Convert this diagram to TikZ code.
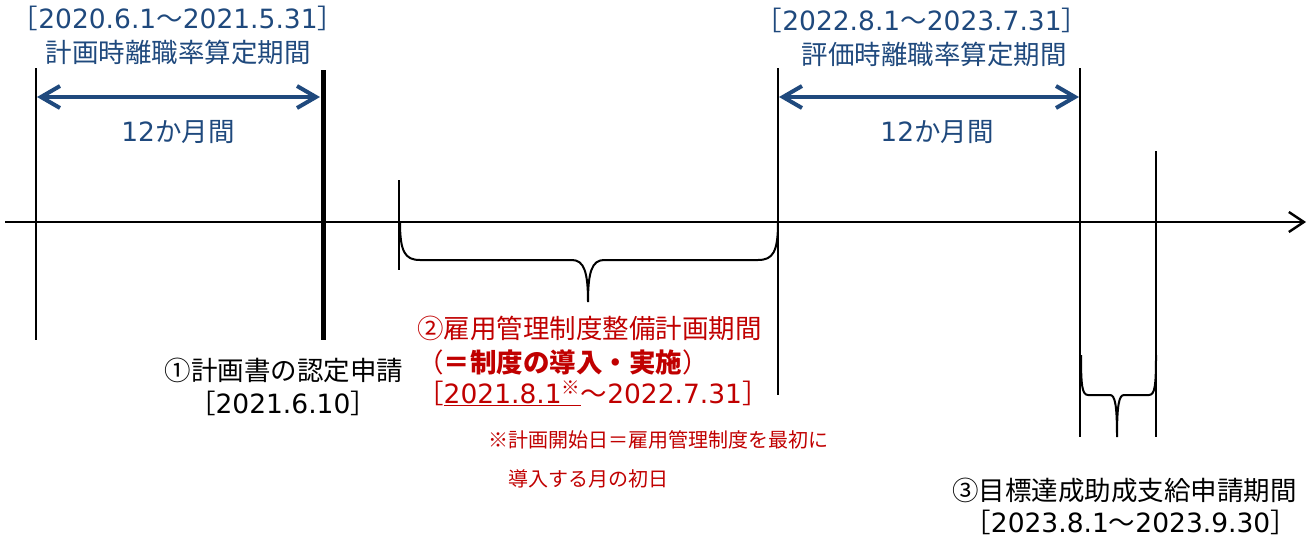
\documentclass[tikz,border=0pt]{standalone}
\usepackage{fontspec}
\setmainfont{Noto Sans CJK JP}
\newfontfamily\latinwide{DejaVu Sans}
\newcommand\lw[1]{{\latinwide #1}}
\usetikzlibrary{arrows.meta}
\definecolor{navy}{RGB}{31,73,125}
\definecolor{darkred}{RGB}{192,0,0}
\tikzset{
  thinline/.style={line width=1.4pt, black},
  thickline/.style={line width=5pt, black},
  axisline/.style={line width=2.4pt, black, -{Straight Barb[length=15pt,width=20pt]}},
  spanarrow/.style={navy, line width=4pt, {Straight Barb[length=19pt,width=22pt]}-{Straight Barb[length=19pt,width=22pt]}},
  bracepath/.style={line width=2pt, black},
  basetxt/.style={inner sep=0pt, font=\fontsize{26.5}{30}\selectfont},
  bluetxt/.style={basetxt, text=navy},
  blktxt/.style={basetxt, text=black},
  redtxt/.style={basetxt, text=darkred},
  smalltxt/.style={inner sep=0pt, text=darkred, font=\fontsize{20}{24}\selectfont},
}
\begin{document}
\begin{tikzpicture}[x=1pt,y=-1pt]
\useasboundingbox (0,0) rectangle (1314,536);
% coordinates
\coordinate (a1) at (36,68);   \coordinate (a2) at (36,340);
\coordinate (b1) at (323,70);  \coordinate (b2) at (323,340);
\coordinate (c1) at (399,180); \coordinate (c2) at (399,270);
\coordinate (d1) at (778,68);  \coordinate (d2) at (778,395);
\coordinate (e1) at (1080,68); \coordinate (e2) at (1080,437);
\coordinate (f1) at (1156,151);\coordinate (f2) at (1156,437);
\coordinate (ax0) at (5,222);  \coordinate (ax1) at (1306,222);
\coordinate (s1a) at (37,97);  \coordinate (s1b) at (320,97);
\coordinate (s2a) at (779,97); \coordinate (s2b) at (1079,97);
% vertical lines
\draw[thinline] (a1) -- (a2);
\draw[thickline] (b1) -- (b2);
\draw[thinline] (c1) -- (c2);
\draw[thinline] (d1) -- (d2);
\draw[thinline] (e1) -- (e2);
\draw[thinline] (f1) -- (f2);
% axis
\draw[axisline] (ax0) -- (ax1);
% spans
\draw[spanarrow] (s1a) -- (s1b);
\draw[spanarrow] (s2a) -- (s2b);
% braces
\draw[bracepath] (400,222) .. controls (400,252) and (405,260) .. (420,260)
  -- (572,260) .. controls (584,260) and (588,272) .. (588,302)
  .. controls (588,272) and (592,260) .. (604,260)
  -- (758,260) .. controls (773,260) and (778,252) .. (778,222);
\draw[bracepath] (1081,355) .. controls (1081,385) and (1082,395) .. (1088,395)
  -- (1110,395) .. controls (1115,395) and (1117,405) .. (1117,437)
  .. controls (1117,405) and (1119,395) .. (1124,395)
  -- (1149,395) .. controls (1155,395) and (1156,385) .. (1156,355);
% texts
\node[bluetxt] (t1) at (178,18) {［\lw{2020.6.1}～\lw{2021.5.31}］};
\node[bluetxt] (t2) at (178,52) {計画時離職率算定期間};
\node[bluetxt] (t3) at (178,132) {\lw{12}か月間};
\node[bluetxt] (t4) at (922,20) {［\lw{2022.8.1}～\lw{2023.7.31}］};
\node[bluetxt] (t5) at (934,54) {評価時離職率算定期間};
\node[bluetxt] (t6) at (937,132) {\lw{12}か月間};
\node[blktxt] (t7) at (284,370) {①計画書の認定申請};
\node[blktxt] (t8) at (283,403) {［\lw{2021.6.10}］};
\node[redtxt, anchor=west] (r1) at (417,328) {②雇用管理制度整備計画期間};
\node[redtxt, anchor=west] (r2) at (417,362) {（\textbf{＝制度の導入・実施}）};
\node[redtxt, anchor=west] (r3) at (417,393) {［\underline{\lw{2021.8.1}\textsuperscript{※}}～\lw{2022.7.31}］};
\node[smalltxt, anchor=west] (r4) at (488,440) {※計画開始日＝雇用管理制度を最初に};
\node[smalltxt, anchor=west] (r5) at (508,479) {導入する月の初日};
\node[blktxt, anchor=east] (t9) at (1297,490) {③目標達成助成支給申請期間};
\node[blktxt, anchor=east] (t10) at (1297,522) {［\lw{2023.8.1}～\lw{2023.9.30}］};
\end{tikzpicture}
\end{document}
